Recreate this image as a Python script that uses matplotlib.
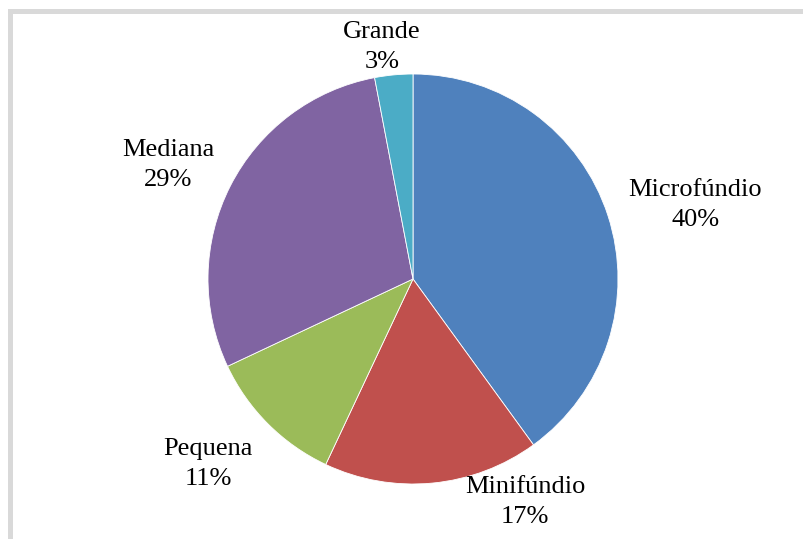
import matplotlib.pyplot as plt
from matplotlib.patches import Rectangle

# Data
categories = ['Microfúndio', 'Minifúndio', 'Pequena', 'Mediana', 'Grande']
values = [40, 17, 11, 29, 3]
colors = ['#4F81BD', '#C0504D', '#9BBB59', '#8064A2', '#4BACC6']

# label centres in pie units (radius = 1)
label_pos = [(1.376, 0.361), (0.546, -1.088), (-1.0, -0.902),
             (-1.195, 0.556), (-0.151, 1.132)]

W, H = 804, 539
fig = plt.figure(figsize=(W / 100, H / 100), dpi=100)
fig.patch.set_facecolor('white')

# grey frame on top and left edges
GREY = '#D9D9D9'
fig.patches.append(Rectangle((8 / W, 1 - 14 / H), 1, 5 / H, transform=fig.transFigure,
                             facecolor=GREY, edgecolor='none'))
fig.patches.append(Rectangle((8 / W, 0), 5 / W, 1 - 9 / H, transform=fig.transFigure,
                             facecolor=GREY, edgecolor='none'))

cx, cy, r = 413, 279, 205
ax = fig.add_axes([(cx - r) / W, (H - cy - r) / H, 2 * r / W, 2 * r / H])
ax.pie(values, colors=colors, startangle=90, counterclock=False,
       wedgeprops=dict(edgecolor='white', linewidth=0.6))
ax.set_xlim(-1, 1)
ax.set_ylim(-1, 1)
ax.set_aspect('equal')
ax.axis('off')

for name, v, (x, y) in zip(categories, values, label_pos):
    ax.text(x, y, f'{name}\n{v}%', ha='center', va='center', fontsize=19,
            family='Liberation Serif', linespacing=1.5, clip_on=False)

fig.savefig('out.png', dpi=100, facecolor='white')
